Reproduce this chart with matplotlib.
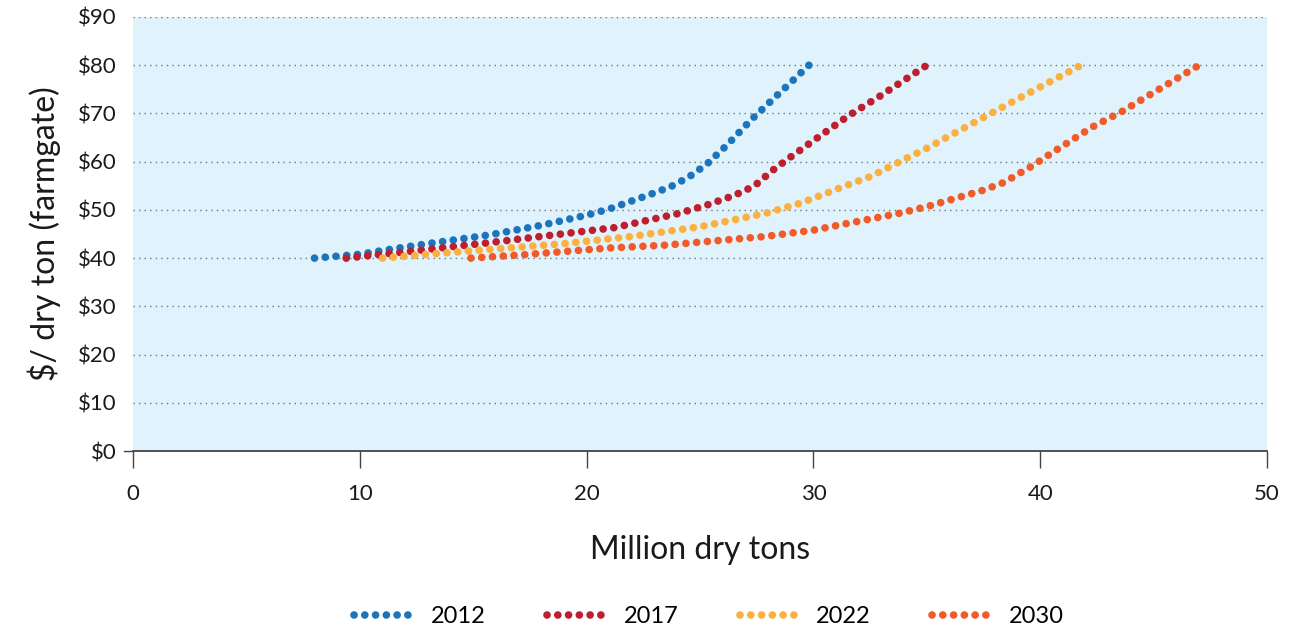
import matplotlib
matplotlib.use("Agg")
import matplotlib.pyplot as plt
from matplotlib.lines import Line2D

plt.rcParams['font.family'] = ['Lato', 'DejaVu Sans']

years = ["2012", "2017", "2022", "2030"]
colors = ["#1C75BC", "#BE1E2D", "#FBB040", "#F15A29"]

x2012 = [8, 10, 11.3, 13, 15.7, 18, 20, 21, 22.8, 23.7, 24.5, 25.3, 26.2, 27.3, 28.7, 29.8]
y2012 = [40, 40.8, 41.8, 43, 44.8, 46.8, 48.9, 50.2, 53.2, 54.8, 56.8, 59.5, 63.5, 68.9, 75.1, 80]

x2017 = [9.4, 12, 15.7, 18, 21.2, 24, 25.3, 26.5, 27.1, 27.5, 28.2, 29.0, 30.1, 31.6, 32.9, 35.0]
y2017 = [40, 41.3, 43.2, 44.5, 46.3, 49.2, 51, 53, 54.3, 55.4, 58.2, 61, 64.7, 69.7, 73.5, 80]

x2022 = [11, 13, 15.7, 19, 22, 25, 27.9, 29.5, 31.3, 32.5, 34.1, 35.0, 37.9, 40, 41.8]
y2022 = [40, 40.8, 41.8, 43, 44.5, 46.5, 49.3, 51.5, 54.8, 56.9, 60.7, 62.8, 70.2, 75.5, 80]

x2030 = [14.9, 17.2, 21, 23.5, 27.9, 30, 31.5, 33.8, 35.1, 37.5, 38.4, 39.6, 40.7, 42.3, 43.6, 47.0]
y2030 = [40, 40.7, 42.1, 42.7, 44.5, 45.8, 47.2, 49.3, 50.8, 54.1, 55.7, 59, 62.4, 67.2, 70.4, 80]

series_x = [x2012, x2017, x2022, x2030]
series_y = [y2012, y2017, y2022, y2030]

xticks = [0, 10, 20, 30, 40, 50]
yticks = [0, 10, 20, 30, 40, 50, 60, 70, 80, 90]
ytick_labels = ["$" + str(v) for v in yticks]

fig = plt.figure(figsize=(12.89, 6.34), dpi=100)
ax = fig.add_axes([0.1032, 0.2886, 0.8798, 0.6846])
ax.set_facecolor("#E0F2FB")

dot_style = (0, (0.01, 1.4))
for xs, ys, c in zip(series_x, series_y, colors):
    ax.plot(xs, ys, color=c, linewidth=5.5, linestyle=dot_style,
            dash_capstyle='round', solid_capstyle='round', zorder=3)

ax.set_xlim(0, 50)
ax.set_ylim(0, 90)
ax.set_xticks(xticks)
ax.set_yticks(yticks)
ax.set_yticklabels(ytick_labels)

for v in yticks[1:]:
    ax.axhline(v, color="#6d7780", linewidth=1.0, linestyle=(0, (1, 3)), zorder=1)

for s in ["top", "right", "left"]:
    ax.spines[s].set_visible(False)
ax.spines["bottom"].set_color("#444444")
ax.spines["bottom"].set_linewidth(1.3)
ax.tick_params(axis='x', length=12, width=1, color="#444444", direction='out',
               labelsize=16, pad=12, labelcolor="#1a1a1a")
ax.tick_params(axis='y', length=0, labelsize=16, pad=12, labelcolor="#1a1a1a")
ax.plot([-0.4, 0], [0, 0], color="#444444", linewidth=1, clip_on=False)

ax.set_xlabel("Million dry tons", fontsize=23, labelpad=22, color="#1a1a1a")
ax.set_ylabel("$/ dry ton (farmgate)", fontsize=23, labelpad=12, color="#1a1a1a")

handles = [Line2D([0], [0], color=c, linewidth=5.5, linestyle=dot_style,
                  dash_capstyle='round') for c in colors]
fig.legend(handles, years, loc='center', bbox_to_anchor=(0.55, 0.027), ncol=4,
           frameon=False, fontsize=17, handlelength=2.6, handletextpad=0.65,
           columnspacing=2.6)

fig.savefig("out.png", dpi=100)
